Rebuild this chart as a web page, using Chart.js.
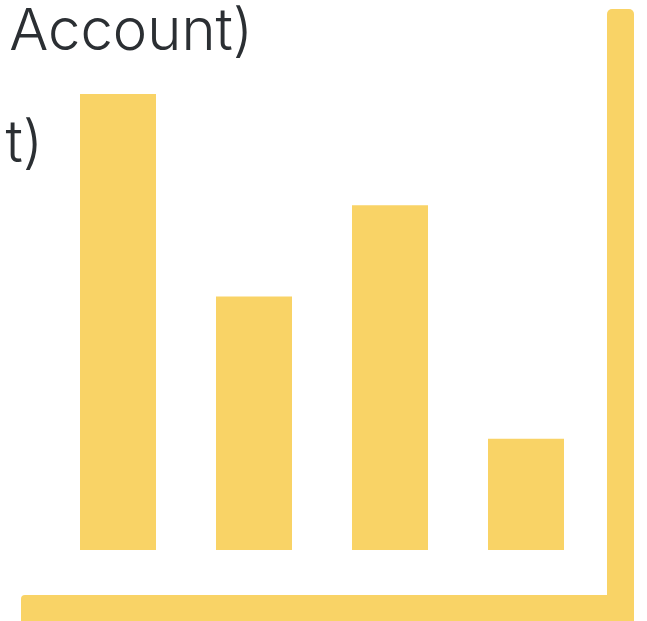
<!DOCTYPE html>
<html>
<head>
<meta charset="utf-8">
<script src="https://cdn.jsdelivr.net/npm/chart.js@4/dist/chart.umd.min.js"></script>
<style>
  html, body { margin: 0; padding: 0; background: #fff; }
  #wrap { position: relative; width: 647px; height: 621px; }
</style>
</head>
<body>
<div id="wrap"><canvas id="bar-chart"></canvas></div>
<script>
// data
const categories = ["1", "2", "3", "4"];
const values = [41, 22.8, 31, 10];
const titleLines = ["Account)", "t)"];

const barColor = "#f9d366";
const textColor = "#2b2f33";

// title text and the L-shaped frame are drawn by hand
const decorPlugin = {
  id: "decor",
  afterDraw(chart) {
    const ctx = chart.ctx;
    ctx.save();
    ctx.fillStyle = barColor;
    ctx.beginPath();
    ctx.roundRect(607, 9, 27, 620, 5);
    ctx.fill();
    ctx.beginPath();
    ctx.roundRect(21, 595, 613, 30, 4);
    ctx.fill();

    ctx.fillStyle = textColor;
    ctx.font = "300 58px Inter";
    ctx.textAlign = "right";
    ctx.textBaseline = "alphabetic";
    ctx.fillText(titleLines[0], 253, 50);
    ctx.fillText(titleLines[1], 43, 162);
    ctx.restore();
  },
};

const ctx = document.getElementById("bar-chart").getContext("2d");
new Chart(ctx, {
  type: "bar",
  data: {
    labels: categories,
    datasets: [
      {
        data: values,
        backgroundColor: barColor,
        borderWidth: 0,
        barPercentage: 1,
        categoryPercentage: 76 / 136,
      },
    ],
  },
  options: {
    responsive: true,
    maintainAspectRatio: false,
    animation: false,
    layout: { padding: { left: 50, right: 53, top: 94, bottom: 71 } },
    plugins: {
      legend: { display: false },
      tooltip: { enabled: false },
    },
    scales: {
      x: { display: false },
      y: { display: false, min: 0, max: 41 },
    },
  },
  plugins: [decorPlugin],
});
</script>
</body>
</html>
